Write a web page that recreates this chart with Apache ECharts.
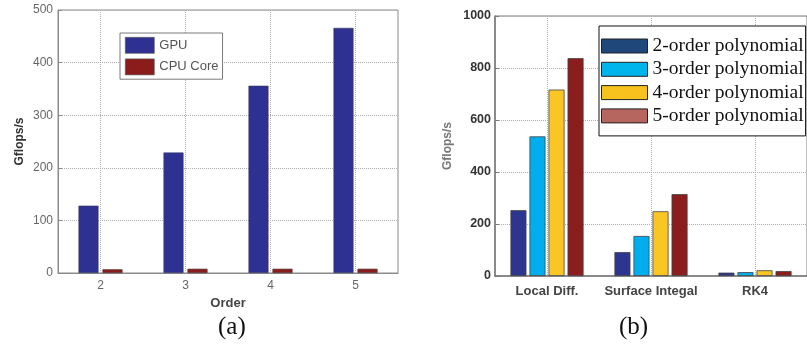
<!DOCTYPE html>
<html><head><meta charset="utf-8">
<script src="https://cdn.jsdelivr.net/npm/echarts@6/dist/echarts.min.js"></script>
<style>html,body{margin:0;padding:0;background:#fff}#c{width:807px;height:349px}</style>
</head><body><div id="c"></div><script>
// (a) throughput per polynomial order
const orders = ['2', '3', '4', '5'];
const gpuGflops = [128, 229, 356, 466];
const cpuGflops = [7, 8, 8, 8];
// (b) throughput per kernel
const kernels = ['Local Diff.', 'Surface Integal', 'RK4'];
const poly2 = [253, 92, 13];
const poly3 = [537, 154, 15];
const poly4 = [717, 249, 22];
const poly5 = [838, 315, 19];
const seriesB = ['2-order polynomial', '3-order polynomial', '4-order polynomial', '5-order polynomial'];

const barColorsB = ['#2e3591', '#00aeef', '#f9c623', '#8c1d1d'];
const legendColorsB = ['#1f477a', '#00b4ec', '#f7c11e', '#b6655f'];

const grid = { type: 'dotted', color: '#b0b0b0', width: 1 };
const sans = 'Liberation Sans, Arial, sans-serif';
const serif = 'Liberation Serif, Times New Roman, serif';
const plain = v => String(v);

const chart = echarts.init(document.getElementById('c'), null, { renderer: 'canvas' });
chart.setOption({
  animation: false,
  backgroundColor: '#fff',
  grid: [
    { left: 58, top: 10, width: 340, height: 263, show: true, borderColor: '#8a8a8a', borderWidth: 1 },
    { left: 495, top: 16, width: 317, height: 260, show: true, borderColor: '#7a7a7a', borderWidth: 1 }
  ],
  title: [
    { text: '(a)', left: 213, top: 310, textStyle: { fontFamily: serif, fontSize: 25, fontWeight: 'normal', color: '#111' } },
    { text: '(b)', left: 614, top: 310, textStyle: { fontFamily: serif, fontSize: 25, fontWeight: 'normal', color: '#111' } }
  ],
  legend: [
    {
      left: 120, top: 33, orient: 'vertical', icon: 'rect',
      padding: [4, 4, 4, 5], itemGap: 5, itemWidth: 29, itemHeight: 16,
      borderColor: '#7a7a7a', borderWidth: 1, backgroundColor: '#fff',
      textStyle: { fontFamily: sans, fontSize: 13, color: '#555' },
      itemStyle: { borderColor: '#555', borderWidth: 0.6 },
      data: ['GPU', 'CPU Core']
    },
    {
      left: 599, top: 26, orient: 'vertical', icon: 'rect',
      padding: [10, 2, 10, 2], itemGap: 3.3, itemWidth: 46, itemHeight: 14,
      borderColor: '#111', borderWidth: 1, backgroundColor: '#fff',
      textStyle: { fontFamily: serif, fontSize: 19.5, color: '#111' },
      data: seriesB.map((n, i) => ({ name: n, itemStyle: { color: legendColorsB[i], borderColor: '#222', borderWidth: 1 } }))
    }
  ],
  xAxis: [
    {
      gridIndex: 0, type: 'category', data: orders,
      name: 'Order', nameLocation: 'middle', nameGap: 22,
      nameTextStyle: { fontFamily: sans, fontSize: 13, fontWeight: 'bold', color: '#444' },
      axisLine: { lineStyle: { color: '#8a8a8a' } },
      axisTick: { alignWithLabel: true, inside: true, length: 4, lineStyle: { color: '#8a8a8a' } },
      axisLabel: { interval: 0, margin: 7, fontFamily: sans, fontSize: 12, color: '#666' },
      splitLine: { show: true, alignWithLabel: true, lineStyle: grid }
    },
    {
      gridIndex: 1, type: 'category', data: kernels,
      axisLine: { lineStyle: { color: '#7a7a7a', width: 1.5 } },
      axisTick: { alignWithLabel: true, inside: true, length: 4, lineStyle: { color: '#7a7a7a' } },
      axisLabel: { interval: 0, margin: 9, fontFamily: sans, fontSize: 13, fontWeight: 'bold', color: '#444' },
      splitLine: { show: true, alignWithLabel: true, lineStyle: grid }
    }
  ],
  yAxis: [
    {
      gridIndex: 0, type: 'value', min: 0, max: 500, interval: 100,
      name: 'Gflops/s', nameLocation: 'middle', nameGap: 32, nameRotate: 90,
      nameTextStyle: { fontFamily: sans, fontSize: 12, fontWeight: 'bold', color: '#333' },
      axisLine: { show: true, lineStyle: { color: '#8a8a8a' } },
      axisTick: { show: true, inside: true, length: 4, lineStyle: { color: '#8a8a8a' } },
      axisLabel: { margin: 5, fontFamily: sans, fontSize: 12, color: '#666', formatter: plain },
      splitLine: { show: true, lineStyle: grid }
    },
    {
      gridIndex: 1, type: 'value', min: 0, max: 1000, interval: 200,
      name: 'Gflops/s', nameLocation: 'middle', nameGap: 41, nameRotate: 90,
      nameTextStyle: { fontFamily: sans, fontSize: 12, fontWeight: 'bold', color: '#777' },
      axisLine: { show: true, lineStyle: { color: '#7a7a7a', width: 1.5 } },
      axisTick: { show: true, inside: true, length: 4, lineStyle: { color: '#7a7a7a' } },
      axisLabel: { margin: 4, fontFamily: sans, fontSize: 12.5, fontWeight: 'bold', color: '#333', formatter: plain },
      splitLine: { show: true, lineStyle: grid }
    }
  ],
  series: [
    { name: 'GPU', type: 'bar', xAxisIndex: 0, yAxisIndex: 0, data: gpuGflops, barWidth: 20, barGap: '20%',
      itemStyle: { color: '#2e3192', borderColor: '#3a3a5a', borderWidth: 0.6 } },
    { name: 'CPU Core', type: 'bar', xAxisIndex: 0, yAxisIndex: 0, data: cpuGflops, barWidth: 20, barGap: '20%',
      itemStyle: { color: '#8b1c1c', borderColor: '#4a2a2a', borderWidth: 0.6 } },
    ...[poly2, poly3, poly4, poly5].map((vals, i) => ({
      name: seriesB[i], type: 'bar', xAxisIndex: 1, yAxisIndex: 1, data: vals, barWidth: 16, barGap: '19%',
      itemStyle: { color: barColorsB[i], borderColor: '#444', borderWidth: 0.8 }
    }))
  ]
});
</script></body></html>
